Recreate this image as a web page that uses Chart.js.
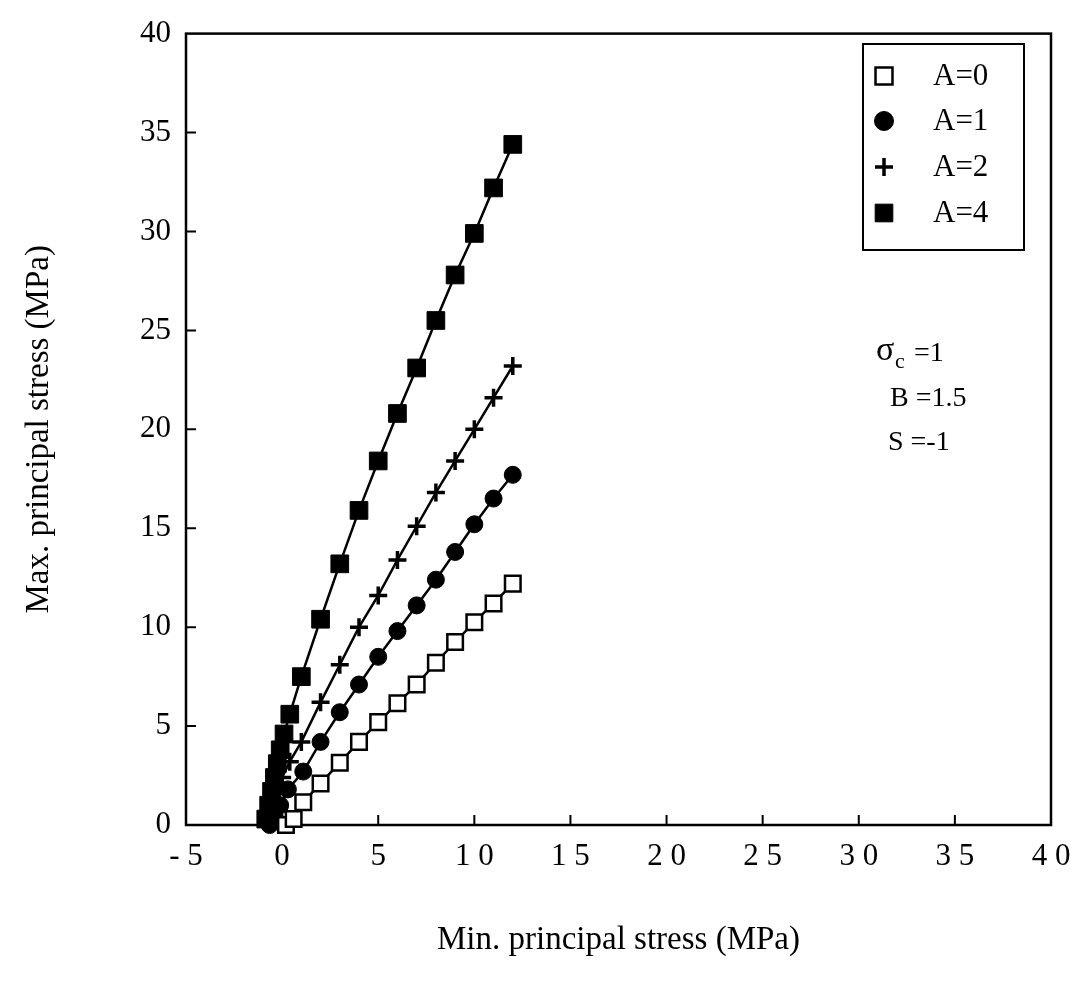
<!DOCTYPE html>
<html>
<head>
<meta charset="utf-8">
<script src="https://cdn.jsdelivr.net/npm/chart.js@4.4.0/dist/chart.umd.min.js"></script>
<style>
    html, body { margin: 0; padding: 0; background: #fff; }
</style>
</head>
<body>
<canvas id="graf" width="1084" height="983"></canvas>
<script>
// A = 0 (otvorene stvorce)
var xA0 = [0.2, 0.6, 1.1, 2, 3, 4, 5, 6, 7, 8, 9, 10, 11, 12];
var yA0 = [0, 0.3, 1.15, 2.1, 3.15, 4.2, 5.2, 6.15, 7.1, 8.2, 9.25, 10.25, 11.2, 12.2];
// A = 1 (kruhy)
var xA1 = [-0.65, -0.4, -0.1, 0.3, 1.1, 2, 3, 4, 5, 6, 7, 8, 9, 10, 11, 12];
var yA1 = [0, 0.5, 1.0, 1.8, 2.7, 4.2, 5.7, 7.1, 8.5, 9.8, 11.1, 12.4, 13.8, 15.2, 16.5, 17.7];
// A = 2 (krizik)
var xA2 = [-0.8, -0.55, -0.3, 0, 0.4, 1, 2, 3, 4, 5, 6, 7, 8, 9, 10, 11, 12];
var yA2 = [0.2, 0.9, 1.6, 2.4, 3.2, 4.2, 6.2, 8.1, 10.0, 11.6, 13.4, 15.1, 16.8, 18.4, 20.0, 21.6, 23.2];
// A = 4 (plne stvorce)
var xA4 = [-0.85, -0.7, -0.55, -0.4, -0.25, -0.1, 0.1, 0.4, 1, 2, 3, 4, 5, 6, 7, 8, 9, 10, 11, 12];
var yA4 = [0.3, 1.0, 1.7, 2.4, 3.1, 3.8, 4.6, 5.6, 7.5, 10.4, 13.2, 15.9, 18.4, 20.8, 23.1, 25.5, 27.8, 29.9, 32.2, 34.4];

var labels = ["A=0", "A=1", "A=2", "A=4"];
var xTicks = [-5, 0, 5, 10, 15, 20, 25, 30, 35, 40];
var yTicks = [0, 5, 10, 15, 20, 25, 30, 35, 40];

const PISMO = "'Liberation Serif', 'Times New Roman', serif";

function body(xs, ys) {
    var pole = [];
    for (var i = 0; i < xs.length; i++) pole.push({x: xs[i], y: ys[i]});
    return pole;
}

// ramik, vnutorne ciarky, legenda a popis parametrov
var ramik = {
    id: 'ramik',
    beforeDatasetsDraw: function (chart) {
        var ctx = chart.ctx;
        var a = chart.chartArea;
        var sx = chart.scales.x, sy = chart.scales.y;
        ctx.save();
        ctx.strokeStyle = '#000';
        ctx.lineWidth = 2.5;
        ctx.strokeRect(a.left, a.top, a.right - a.left, a.bottom - a.top);
        ctx.lineWidth = 2;
        ctx.beginPath();
        for (var v of yTicks) {
            if (v <= 0 || v >= 40) continue;
            var py = sy.getPixelForValue(v);
            ctx.moveTo(a.left, py);
            ctx.lineTo(a.left + 10, py);
        }
        for (var v of xTicks) {
            if (v <= -5 || v >= 40) continue;
            var px = sx.getPixelForValue(v);
            ctx.moveTo(px, a.bottom);
            ctx.lineTo(px, a.bottom - 10);
        }
        ctx.stroke();
        ctx.restore();
    },
    afterDraw: function (chart) {
        var ctx = chart.ctx;
        ctx.save();
        // legenda
        ctx.strokeStyle = '#000';
        ctx.lineWidth = 2;
        ctx.strokeRect(863, 44, 161, 206);
        var riadky = [76, 121, 167, 213];
        var velkosti = [12, 9.5, 9, 12.5];
        chart.data.datasets.forEach(function (ds, i) {
            ctx.fillStyle = ds.pointBackgroundColor;
            ctx.strokeStyle = '#000';
            ctx.lineWidth = ds.pointBorderWidth;
            Chart.helpers.drawPoint(ctx, {
                pointStyle: ds.pointStyle,
                radius: velkosti[i],
                rotation: 0,
                borderWidth: ds.pointBorderWidth
            }, 884, riadky[i]);
            ctx.fillStyle = '#000';
            ctx.font = "31px " + PISMO;
            ctx.textBaseline = 'middle';
            ctx.textAlign = 'left';
            ctx.fillText(ds.label, 933, riadky[i] + 1);
        });
        // parametre
        ctx.fillStyle = '#000';
        ctx.textBaseline = 'middle';
        ctx.font = "34px " + PISMO;
        ctx.fillText("σ", 876, 351);
        ctx.font = "22px " + PISMO;
        ctx.fillText("c", 895, 362);
        ctx.font = "28px " + PISMO;
        ctx.fillText("=1", 914, 354);
        ctx.fillText("B =1.5", 890, 399);
        ctx.fillText("S =-1", 888, 443);
        ctx.restore();
    }
};

var canvas = document.getElementById('graf');
new Chart(canvas, {
    type: 'scatter',
    data: {
        datasets: [{
            label: labels[0],
            data: body(xA0, yA0),
            showLine: true,
            borderColor: '#000',
            borderWidth: 2.5,
            pointStyle: 'rect',
            pointRadius: 11,
            pointBorderWidth: 2.5,
            pointBackgroundColor: '#fff',
            pointBorderColor: '#000',
            clip: false
        }, {
            label: labels[1],
            data: body(xA1, yA1),
            showLine: true,
            borderColor: '#000',
            borderWidth: 2.5,
            pointStyle: 'circle',
            pointRadius: 8.5,
            pointBorderWidth: 1,
            pointBackgroundColor: '#000',
            pointBorderColor: '#000',
            clip: false
        }, {
            label: labels[2],
            data: body(xA2, yA2),
            showLine: true,
            borderColor: '#000',
            borderWidth: 2.5,
            pointStyle: 'cross',
            pointRadius: 9,
            pointBorderWidth: 3.5,
            pointBackgroundColor: '#000',
            pointBorderColor: '#000',
            clip: false
        }, {
            label: labels[3],
            data: body(xA4, yA4),
            showLine: true,
            borderColor: '#000',
            borderWidth: 2.5,
            pointStyle: 'rect',
            pointRadius: 12.5,
            pointBorderWidth: 1,
            pointBackgroundColor: '#000',
            pointBorderColor: '#000',
            clip: false
        }]
    },
    options: {
        responsive: false,
        animation: false,
        layout: { padding: { top: 28, right: 33, left: 0, bottom: 0 } },
        plugins: { legend: { display: false }, tooltip: { enabled: false } },
        scales: {
            x: {
                type: 'linear',
                min: -5, max: 40,
                afterBuildTicks: function (s) { s.ticks = xTicks.map(function (v) { return {value: v}; }); },
                afterFit: function (s) { s.height = 158; },
                ticks: {
                    color: '#000',
                    padding: 13,
                    maxRotation: 0,
                    font: { family: PISMO, size: 31 },
                    callback: function (v) { return String(v).split('').join(' '); }
                },
                grid: { display: false, drawTicks: false },
                border: { display: false },
                title: {
                    display: true,
                    text: 'Min. principal stress (MPa)',
                    color: '#000',
                    font: { family: PISMO, size: 33 },
                    padding: { top: 0, bottom: 23 }
                }
            },
            y: {
                type: 'linear',
                min: 0, max: 40,
                afterBuildTicks: function (s) { s.ticks = yTicks.map(function (v) { return {value: v}; }); },
                afterFit: function (s) { s.width = 186; },
                ticks: {
                    color: '#000',
                    padding: 15,
                    font: { family: PISMO, size: 31 }
                },
                grid: { display: false, drawTicks: false },
                border: { display: false },
                title: {
                    display: true,
                    text: 'Max. principal stress (MPa)',
                    color: '#000',
                    font: { family: PISMO, size: 33 },
                    padding: { top: 20, bottom: 0 }
                }
            }
        }
    },
    plugins: [ramik]
});
</script>
</body>
</html>
